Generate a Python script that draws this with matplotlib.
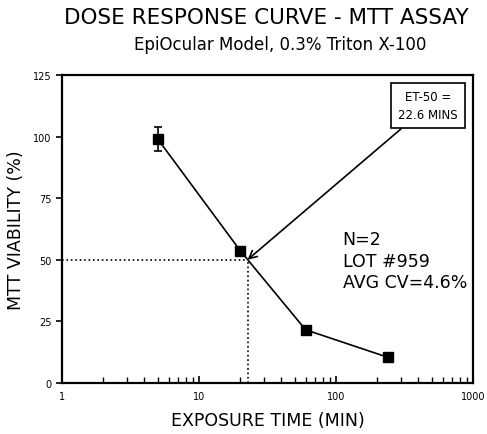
import matplotlib.pyplot as plt
import numpy as np

plt.rcParams['font.family'] = ['DejaVu Sans']

exposure_min = [5, 20, 60, 240]
viability = [99, 53.7, 21.6, 10.4]
viability_err = [5, 0, 0, 0]
et50 = 22.6
x_ticks = [1, 10, 100, 1000]
x_tick_labels = ['1', '10', '100', '1000']
y_ticks = [0, 25, 50, 75, 100, 125]

fig = plt.figure(figsize=(4.87, 4.35), dpi=100)
ax = fig.add_axes([62 / 487, 1 - 384 / 435, 411 / 487, 308 / 435])

# dotted guides to the ET-50 point
ax.plot([1, et50], [50, 50], color='black', linestyle=':', linewidth=1.2)
ax.plot([et50, et50], [0, 50], color='black', linestyle=':', linewidth=1.2)

ax.errorbar(exposure_min, viability, yerr=viability_err, color='black',
            marker='s', markersize=7, linewidth=1.2, capsize=3, capthick=1.2,
            elinewidth=1.2)

ax.set_xscale('log')
ax.set_xlim(1, 1000)
ax.set_ylim(0, 125)
ax.set_xticks(x_ticks)
ax.set_xticklabels(x_tick_labels)
ax.set_yticks(y_ticks)
ax.tick_params(axis='x', which='major', direction='in', length=5, width=1.2,
               labelsize=7, pad=6)
ax.tick_params(axis='x', which='minor', direction='in', length=4, width=1,
               labelsize=0)
ax.tick_params(axis='y', which='major', direction='out', length=4, width=1.2,
               labelsize=7)
for s in ax.spines.values():
    s.set_linewidth(1.6)

ax.set_xlabel('EXPOSURE TIME (MIN)', fontsize=12.5, labelpad=7)
ax.set_ylabel('MTT VIABILITY (%)', fontsize=12.5, labelpad=6)

fig.text(0.547, 0.959, 'DOSE RESPONSE CURVE - MTT ASSAY', ha='center',
         va='center', fontsize=15.5)
fig.text(0.576, 0.897, 'EpiOcular Model, 0.3% Triton X-100', ha='center',
         va='center', fontsize=12)

ax.annotate('ET-50 =\n22.6 MINS', xy=(et50, 50), xytext=(470, 112.5),
            ha='center', va='center', fontsize=8.5, linespacing=1.5,
            bbox=dict(boxstyle='square,pad=0.6', fc='white', ec='black', lw=1.2),
            arrowprops=dict(arrowstyle='->', color='black', lw=1.2,
                            mutation_scale=14, shrinkA=0, shrinkB=0))

ax.text(112, 62, 'N=2\nLOT #959\nAVG CV=4.6%', ha='left', va='top',
        fontsize=12.5, linespacing=1.25)

fig.savefig('out.png', dpi=100)
